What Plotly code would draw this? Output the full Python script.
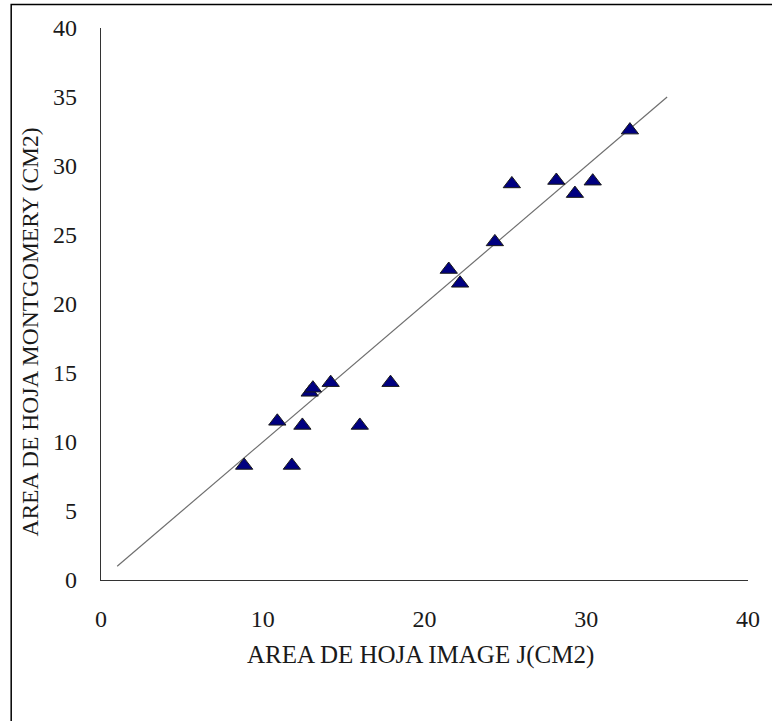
import plotly.graph_objects as go

# Data
area_imagej = [8.85, 10.9, 11.8, 12.45, 12.9, 13.1, 14.2, 16.0, 17.9,
               21.5, 22.2, 24.35, 25.4, 28.15, 29.3, 30.4, 32.7]
area_montgomery = [8.3, 11.5, 8.3, 11.2, 13.6, 13.9, 14.3, 11.2, 14.3,
                   22.5, 21.5, 24.5, 28.7, 28.95, 28.0, 28.9, 32.6]
line_x = [1, 35]
line_y = [1, 35]
tick_vals_x = [0, 10, 20, 30, 40]
tick_vals_y = [0, 5, 10, 15, 20, 25, 30, 35, 40]

x_title = "AREA DE HOJA IMAGE J(CM2)"
y_title = "AREA DE HOJA MONTGOMERY (CM2)"

FONT = "Liberation Serif, Times New Roman, serif"
FS = 24

W, H = 772, 721
L, R, T, B = 101, 19, 28, 141
pw, ph = W - L - R, H - T - B


def px_x(x):
    return (x - L) / pw


def px_y(y):
    return (H - B - y) / ph


fig = go.Figure()
fig.add_trace(go.Scatter(
    x=line_x, y=line_y, mode="lines",
    line=dict(color="#6e6e6e", width=1.2),
    hoverinfo="skip", showlegend=False,
))
fig.add_trace(go.Scatter(
    x=area_imagej, y=area_montgomery, mode="markers",
    marker=dict(symbol="triangle-up", size=15, color="#000080",
                line=dict(color="#1a1a1a", width=1)),
    showlegend=False,
))

fig.update_layout(
    width=W, height=H,
    margin=dict(l=L, r=R, t=T, b=B),
    paper_bgcolor="white", plot_bgcolor="white",
    font=dict(family=FONT, size=FS, color="#1a1a1a"),
    xaxis=dict(range=[0, 40], tickvals=tick_vals_x, showgrid=False,
               zeroline=False, showline=True, linecolor="#333333",
               linewidth=1.2, ticks="", ticklabelstandoff=17,
               tickfont=dict(family=FONT, size=FS, color="#1a1a1a")),
    yaxis=dict(range=[0, 40], tickvals=tick_vals_y, showgrid=False,
               zeroline=False, showline=True, linecolor="#333333",
               linewidth=1.2, ticks="", ticklabelstandoff=18,
               tickfont=dict(family=FONT, size=FS, color="#1a1a1a")),
    annotations=[
        dict(text=x_title, xref="paper", yref="paper",
             x=px_x(423), y=px_y(655),
             xanchor="center", yanchor="middle", showarrow=False,
             font=dict(family=FONT, size=25, color="#1a1a1a")),
        dict(text=y_title, xref="paper", yref="paper",
             x=px_x(29), y=px_y(332), textangle=-90,
             xanchor="center", yanchor="middle", showarrow=False,
             font=dict(family=FONT, size=23.5, color="#1a1a1a")),
    ],
    shapes=[
        dict(type="rect", xref="paper", yref="paper",
             x0=px_x(10.5), x1=px_x(800),
             y0=px_y(760), y1=px_y(4.5),
             line=dict(color="black", width=1.5), fillcolor="rgba(0,0,0,0)",
             layer="above"),
    ],
)

fig.write_html("out.html",
               config={"displayModeBar": False},
               post_script="document.body.style.margin='0';"
                           "document.body.style.overflow='hidden';")
